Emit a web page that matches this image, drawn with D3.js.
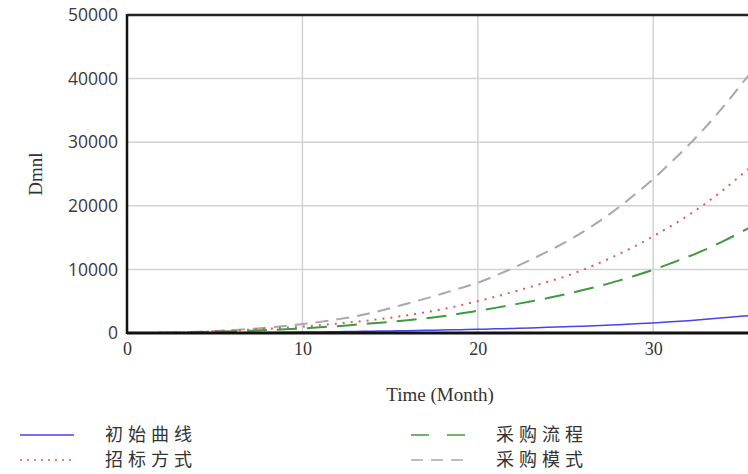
<!DOCTYPE html>
<html><head><meta charset="utf-8">
<script src="https://cdn.jsdelivr.net/npm/d3@7"></script>
<style>
html,body{margin:0;padding:0;background:#fff;overflow:hidden;}
svg{display:block;}
</style></head>
<body><svg id="c" width="748" height="474"></svg>
<script>
const months = d3.range(0, 37);
const seriesNames = ["初始曲线", "招标方式", "采购流程", "采购模式"];
const initialCurve = [0,2,6,12,20,30,45,60,80,110,140,170,200,240,280,320,370,420,470,520,580,650,720,800,890,980,1080,1190,1310,1440,1580,1750,1940,2150,2380,2620,2880];
const biddingMethod = [0,10,30,70,150,280,400,530,670,830,1000,1230,1480,1750,2050,2400,2800,3250,3750,4350,5000,5700,6450,7250,8050,8900,9950,11100,12350,13700,15200,16800,18500,20400,22500,24800,27100];
const purchaseProcess = [0,8,25,60,120,200,280,370,470,580,700,900,1080,1300,1520,1750,2000,2300,2650,3050,3500,3950,4450,4950,5500,6100,6750,7450,8200,9050,9950,10950,12000,13150,14450,15850,17300];
const purchaseMode = [0,10,40,90,180,300,450,630,840,1100,1400,1750,2150,2600,3200,3900,4650,5400,6200,7050,7900,9000,10200,11500,12850,14300,15900,17700,19700,21900,24200,26800,29500,32400,35600,39000,42500];
const xTicks = [0, 10, 20, 30];
const yTicks = [0, 10000, 20000, 30000, 40000, 50000];

const svg = d3.select("#c");
const L = 127, T = 15, B = 333;
const x = d3.scaleLinear().domain([0, 36]).range([L, L + 36 * 17.54]);
const y = d3.scaleLinear().domain([0, 50000]).range([B, T]);
const R = x(36);

// grid
svg.append("g").selectAll("line.gx").data(xTicks.filter(d => d > 0)).join("line")
  .attr("x1", d => x(d)).attr("x2", d => x(d)).attr("y1", T).attr("y2", B)
  .attr("stroke", "#d2d2d2").attr("stroke-width", 1.5);
svg.append("g").selectAll("line.gy").data(yTicks.filter(d => d > 0 && d < 50000)).join("line")
  .attr("x1", L).attr("x2", R).attr("y1", d => y(d)).attr("y2", d => y(d))
  .attr("stroke", "#d2d2d2").attr("stroke-width", 1.5);

// series
const styles = [
  {data: initialCurve, color: "#4444e8", dash: null, w: 1.5},
  {data: biddingMethod, color: "#e05a5a", dash: "2,6", w: 2},
  {data: purchaseProcess, color: "#3f9a3f", dash: "20,10", w: 2},
  {data: purchaseMode, color: "#a8a8a8", dash: "13,8", w: 2}
];
const line = d3.line().x((d, i) => x(months[i])).y(d => y(d)).curve(d3.curveMonotoneX);
styles.slice().reverse().forEach(s => {
  svg.append("path").datum(s.data).attr("d", line)
    .attr("fill", "none").attr("stroke", s.color).attr("stroke-width", s.w)
    .attr("stroke-dasharray", s.dash);
});

// axes
const yAxis = svg.append("g").attr("transform", `translate(${L},0)`)
  .call(d3.axisLeft(y).tickValues(yTicks).tickSize(0).tickPadding(9).tickFormat(d3.format("d")));
yAxis.select(".domain").remove();
yAxis.selectAll("text").attr("font-family", "'Open Sans', 'Noto Sans', sans-serif").attr("font-size", 17.5).attr("fill", "#3a3a3a");

const xAxis = svg.append("g").attr("transform", `translate(0,${B})`)
  .call(d3.axisBottom(x).tickValues(xTicks).tickSize(0).tickPadding(9).tickFormat(d3.format("d")));
xAxis.select(".domain").remove();
xAxis.selectAll("text").attr("font-family", "'Liberation Serif', serif").attr("font-size", 18).attr("fill", "#333");

// frame
svg.append("line").attr("x1", L).attr("x2", L).attr("y1", T - 1).attr("y2", B + 1).attr("stroke", "#111").attr("stroke-width", 2.5);
svg.append("line").attr("x1", L).attr("x2", 760).attr("y1", T).attr("y2", T).attr("stroke", "#222").attr("stroke-width", 2.5);
svg.append("line").attr("x1", L).attr("x2", 760).attr("y1", B).attr("y2", B).attr("stroke", "#111").attr("stroke-width", 3);

// axis titles
svg.append("text").attr("x", 440).attr("y", 401).attr("text-anchor", "middle")
  .attr("font-family", "'Liberation Serif', serif").attr("font-size", 19).attr("fill", "#333").text("Time (Month)");
svg.append("text").attr("transform", "translate(42,174) rotate(-90)").attr("text-anchor", "middle")
  .attr("font-family", "'Liberation Serif', serif").attr("font-size", 19).attr("fill", "#333").text("Dmnl");

// legend
const legendPos = [[20, 105, 435], [20, 105, 460], [411, 496, 435], [411, 496, 460]];
const legDash = [null, "2,5", "18,18", "12,8"];
styles.forEach((s, i) => {
  const [lx, tx, ly] = legendPos[i];
  svg.append("line").attr("x1", lx).attr("x2", lx + 54).attr("y1", ly).attr("y2", ly)
    .attr("stroke", s.color).attr("stroke-width", 1.5).attr("stroke-dasharray", legDash[i]);
  svg.append("text").attr("x", tx).attr("y", ly).attr("dy", "0.36em")
    .attr("font-family", "'Noto Sans CJK SC', sans-serif").attr("font-size", 18).attr("letter-spacing", 5)
    .attr("fill", "#333").text(seriesNames[i]);
});
</script></body></html>
